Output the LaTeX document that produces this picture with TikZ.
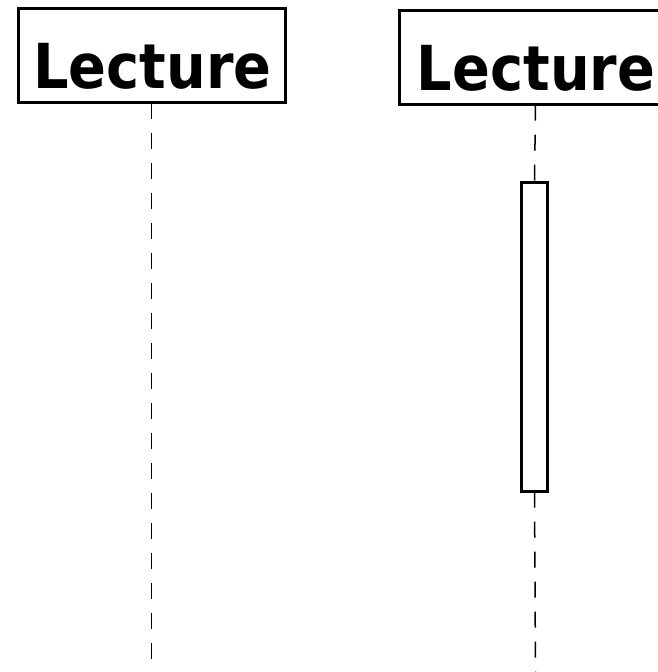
\documentclass[tikz,border=0pt]{standalone}
\usepackage{fontspec}
\newfontfamily\lblfont{DejaVu Sans}
\begin{document}
\begin{tikzpicture}[x=1pt,y=-1pt,
  obj/.style={draw,line width=3pt,inner sep=0pt,outer sep=0pt,minimum width=#1,minimum height=94pt},
  lbl/.style={anchor=base,inner sep=0pt,font=\lblfont\bfseries\fontsize{62pt}{62pt}\selectfont},
  life/.style={line width=1.5pt,dash pattern=on 16pt off 14pt},
  act/.style={draw,fill=white,line width=3pt,inner sep=0pt,outer sep=0pt,minimum width=26pt,minimum height=309pt}]
\useasboundingbox (0,0) rectangle (657,672);
\node[obj=267pt] (lbox) at (151.5,55.5) {};
\node[lbl] (ltxt) at (152.5,88) {\scalebox{0.9}[1]{Lecture}};
\node[obj=273pt] (rbox) at (535.5,57.7) {};
\node[lbl] (rtxt) at (536,90) {\scalebox{0.9}[1]{Lecture}};
\node[act] (act) at (534.5,337) {};
\coordinate (lend) at (151.5,672);
\coordinate (rend) at (535.5,672);
\draw[life] (lbox.south) -- (lend);
\draw[life] (rbox.south) -- (act.north);
\draw[life] (act.south) -- (rend);
\end{tikzpicture}
\end{document}
